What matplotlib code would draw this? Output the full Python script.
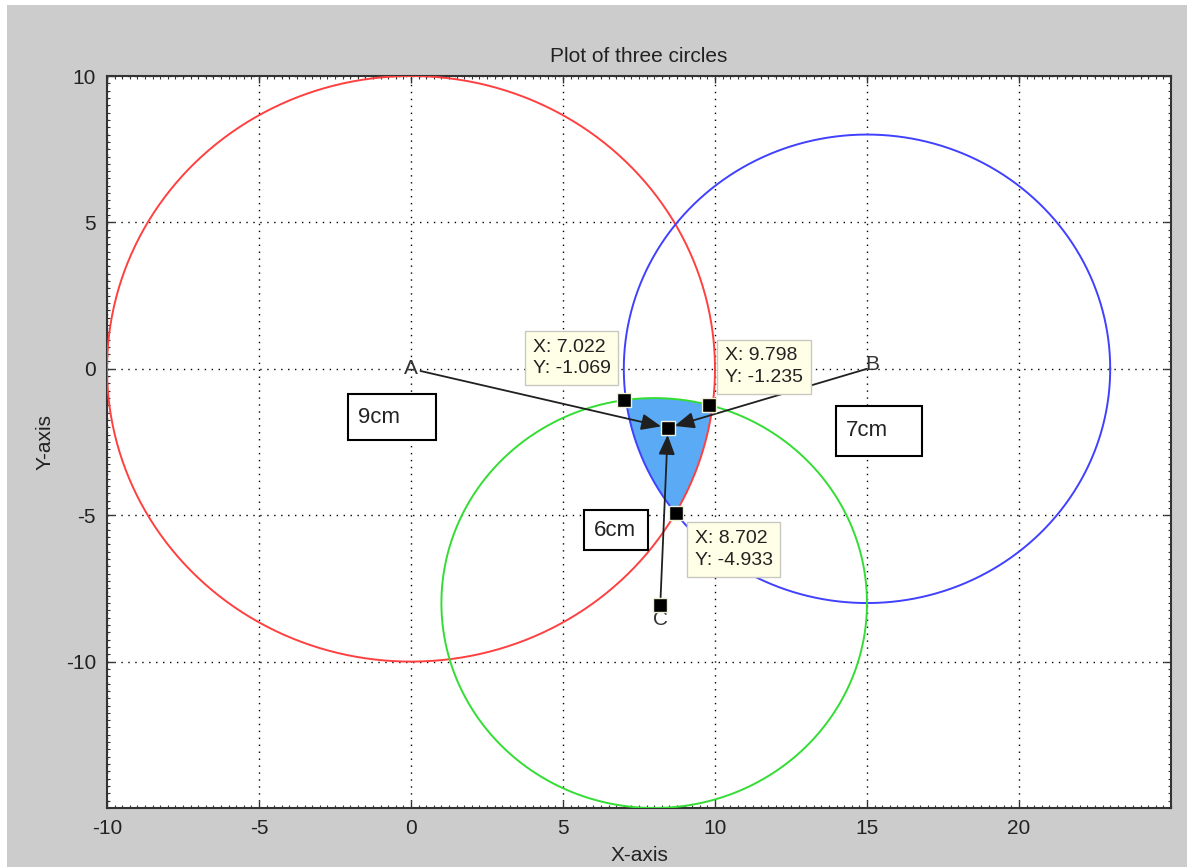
import numpy as np
import matplotlib
matplotlib.use("Agg")
import matplotlib.pyplot as plt
from matplotlib.patches import Rectangle
from matplotlib.ticker import MultipleLocator

plt.rcParams["font.family"] = ["Liberation Sans", "DejaVu Sans"]
plt.rcParams["axes.unicode_minus"] = False

# circles: centre x, centre y, radius, colour
circle_x = [0, 15, 8]
circle_y = [0, 0, -8]
circle_r = [10, 8, 7]
circle_colors = ["#ff4040", "#4040ff", "#33dd33"]

# labelled points and where their arrows point
point_names = ["A", "B", "C"]
point_x = [0, 15, 8.2]
point_y = [0, 0, -8.05]
target = (8.45, -2.02)

# data tips
tip_x = [7.022, 9.798, 8.702]
tip_y = [-1.069, -1.235, -4.933]

# text boxes
box_labels = ["9cm", "7cm", "6cm"]

fig = plt.figure(figsize=(11.87, 8.67), dpi=100, facecolor="#cccccc")
fig.patches.append(Rectangle((0, 1 - 5 / 867), 1, 5 / 867, transform=fig.transFigure,
                             fc="white", ec="none", zorder=0))
fig.patches.append(Rectangle((0, 0), 7 / 1187, 1, transform=fig.transFigure,
                             fc="white", ec="none", zorder=0))
ax = fig.add_axes([107 / 1187, 1 - 808 / 867, 1064 / 1187, 732 / 867])

t = np.linspace(0, 2 * np.pi, 600)
for cx, cy, r, c in zip(circle_x, circle_y, circle_r, circle_colors):
    ax.plot(cx + r * np.cos(t), cy + r * np.sin(t), color=c, lw=1.4, zorder=3)


def meet(i, j, k):
    # intersection of circles i and j lying inside circle k
    x1, y1, r1 = circle_x[i], circle_y[i], circle_r[i]
    x2, y2, r2 = circle_x[j], circle_y[j], circle_r[j]
    d = np.hypot(x2 - x1, y2 - y1)
    a = (r1 ** 2 - r2 ** 2 + d ** 2) / (2 * d)
    h = np.sqrt(r1 ** 2 - a ** 2)
    mx = x1 + a * (x2 - x1) / d
    my = y1 + a * (y2 - y1) / d
    cands = [(mx + h * (y2 - y1) / d, my - h * (x2 - x1) / d),
             (mx - h * (y2 - y1) / d, my + h * (x2 - x1) / d)]
    return min(cands, key=lambda p: np.hypot(p[0] - circle_x[k], p[1] - circle_y[k]))


def arc(i, p1, p2, n=80):
    cx, cy, r = circle_x[i], circle_y[i], circle_r[i]
    a1 = np.arctan2(p1[1] - cy, p1[0] - cx)
    a2 = np.arctan2(p2[1] - cy, p2[0] - cx)
    da = (a2 - a1 + np.pi) % (2 * np.pi) - np.pi
    a = a1 + np.linspace(0, da, n)
    return cx + r * np.cos(a), cy + r * np.sin(a)


p_bg = meet(1, 2, 0)
p_rg = meet(0, 2, 1)
p_rb = meet(0, 1, 2)
xs, ys = [], []
for i, p1, p2 in [(2, p_bg, p_rg), (0, p_rg, p_rb), (1, p_rb, p_bg)]:
    ax_, ay_ = arc(i, p1, p2)
    xs.extend(ax_)
    ys.extend(ay_)
ax.fill(xs, ys, color="#5aaaf5", lw=0, zorder=2)

# arrows from A, B, C to the target
for name, px, py in zip(point_names, point_x, point_y):
    ax.annotate("", xy=target, xytext=(px, py),
                arrowprops=dict(arrowstyle="-|>,head_length=0.6,head_width=0.25",
                                color="#202020", lw=1.3, mutation_scale=20,
                                shrinkA=7 if name == "A" else 0, shrinkB=5),
                zorder=5)

ax.text(point_x[0], point_y[0], point_names[0], ha="center", va="center",
        fontsize=15, color="#333333", zorder=6)
ax.text(point_x[1] - 0.05, point_y[1] + 0.15, point_names[1], ha="left", va="center",
        fontsize=15, color="#333333", zorder=6)
ax.text(point_x[2], point_y[2] - 0.2, point_names[2], ha="center", va="top",
        fontsize=15, color="#333333", zorder=6)

ax.plot([point_x[2], target[0]], [point_y[2], target[1]], ls="none", marker="s",
        ms=10, color="black", mec="#f0f0d8", zorder=7)
ax.plot(tip_x, tip_y, ls="none", marker="s", ms=10, color="black", mec="#f0f0d8", zorder=7)

# data tip boxes
tip_offsets = [(-14, 23), (16, 19), (19, -17)]
tip_align = [("right", "bottom"), ("left", "bottom"), ("left", "top")]
for x, y, off, (ha, va) in zip(tip_x, tip_y, tip_offsets, tip_align):
    ax.annotate(f"X: {x:.3f}\nY: {y:.3f}", xy=(x, y), xytext=off,
                textcoords="offset pixels", ha=ha, va=va, multialignment="left",
                fontsize=14, color="#222222", linespacing=1.35, zorder=8,
                bbox=dict(boxstyle="square,pad=0.4", fc="#ffffe8", ec="#c8c8c0", lw=1))

# text boxes (pixel positions: left, top, right, bottom)
box_px = [(348, 394, 436, 440), (836, 406, 922, 456), (584, 510, 648, 550)]
for lab, (l, tp, r, b) in zip(box_labels, box_px):
    fig.patches.append(Rectangle((l / 1187, 1 - b / 867), (r - l) / 1187, (b - tp) / 867,
                                 transform=fig.transFigure, fc="white", ec="black",
                                 lw=1.5, zorder=9))
    fig.text((l + 10) / 1187, 1 - (tp + b) / 2 / 867, lab, ha="left", va="center",
             fontsize=16, color="#222222", zorder=10)

ax.set_xlim(-10, 25)
ax.set_ylim(-15, 10)
ax.set_xticks(range(-10, 21, 5))
ax.set_yticks(range(-10, 11, 5))
ax.xaxis.set_minor_locator(MultipleLocator(0.25))
ax.yaxis.set_minor_locator(MultipleLocator(0.25))
ax.tick_params(which="both", direction="in", top=True, right=True, colors="#333333",
               labelsize=15, labelcolor="#222222")
ax.tick_params(which="major", length=5, width=1, pad=8)
ax.tick_params(which="minor", length=2.5, width=0.8)
ax.grid(True, which="major", color="black", ls=(0, (1, 4)), lw=1)
for s in ax.spines.values():
    s.set_linewidth(1.5)
    s.set_color("#333333")

ax.set_title("Plot of three circles", fontsize=15, color="#222222", pad=10)
ax.set_xlabel("X-axis", fontsize=15, color="#222222", labelpad=6)
ax.set_ylabel("Y-axis", fontsize=15, color="#222222", labelpad=8)

fig.savefig("out.png", dpi=100, facecolor=fig.get_facecolor())
